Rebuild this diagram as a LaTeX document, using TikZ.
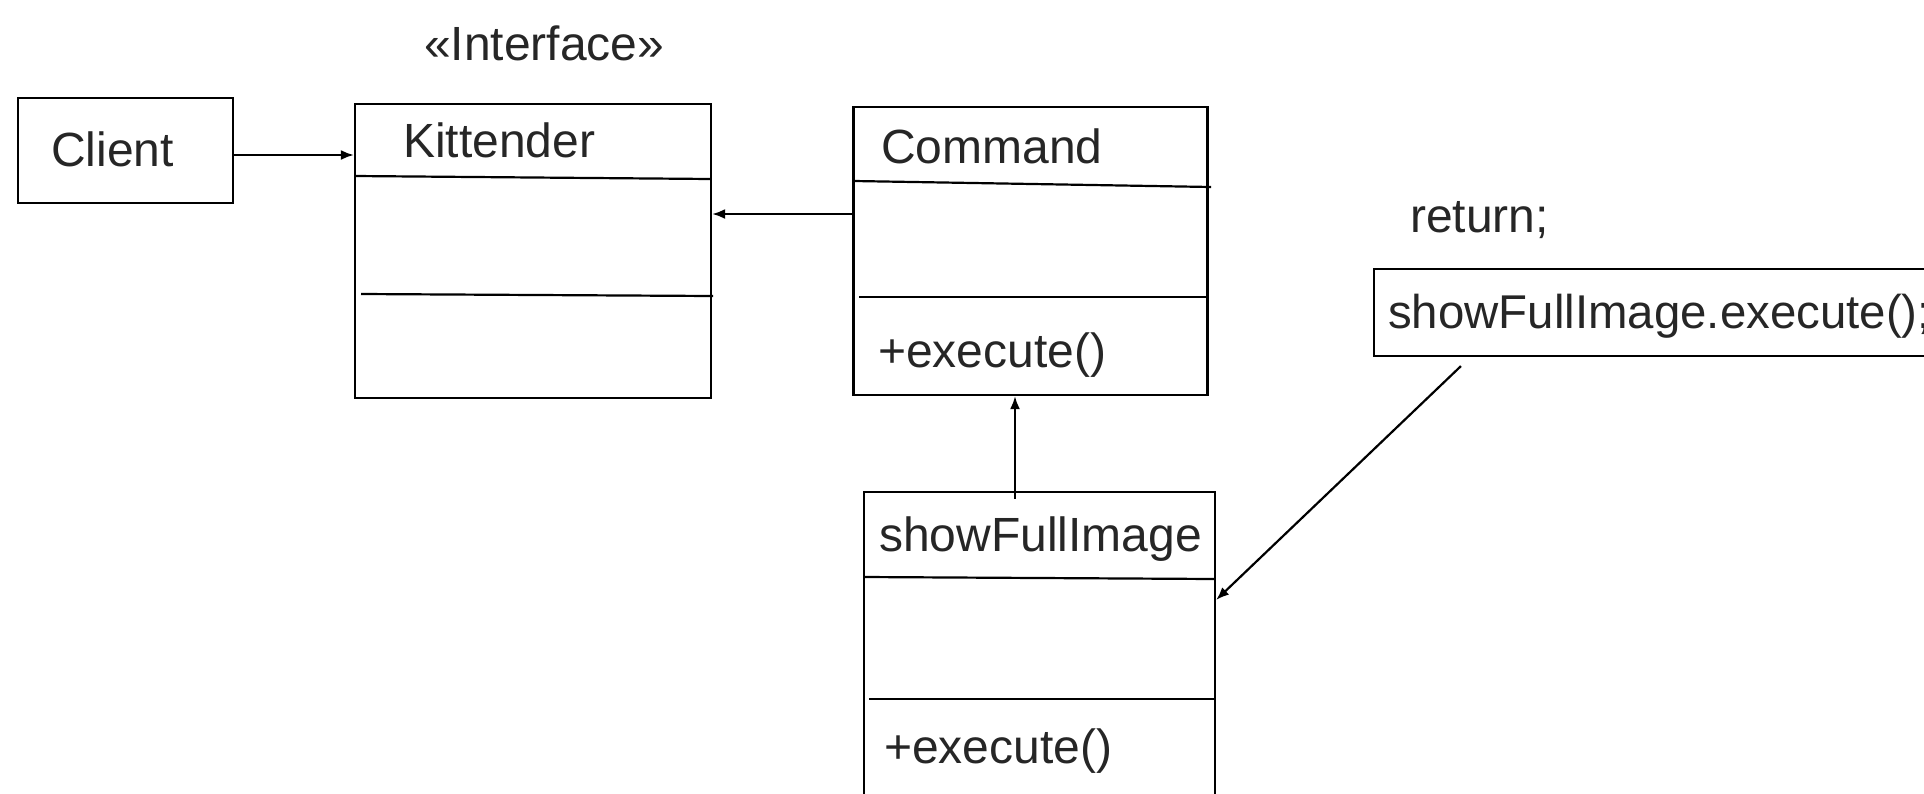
\documentclass[tikz,border=0pt]{standalone}
\usepackage{fontspec}
\setmainfont{Liberation Sans}
\usetikzlibrary{arrows.meta}

\begin{document}
\begin{tikzpicture}[x=1pt,y=-1pt,
    box/.style={draw,line width=2.2pt,inner sep=0pt},
    txt/.style={anchor=base west,inner sep=0pt,text=black!85,font=\fontsize{48}{56}\selectfont},
    rule/.style={line width=2.2pt},
    arr/.style={-{Latex[length=13pt,width=10pt]},line width=2.2pt}]
    \useasboundingbox (0,0) rectangle (1924,793);
    \clip (0,0) rectangle (1924,793);

    % class boxes
    \node[box,minimum width=215pt,minimum height=105pt] (client) at (125.5,150.5) {};
    \node[box,minimum width=356pt,minimum height=294pt] (kit) at (533,251) {};
    \node[box,minimum width=354pt,minimum height=288pt] (cmd) at (1030.5,251) {};
    \node[box,minimum width=351pt,minimum height=350pt] (sfi) at (1039.5,667) {};
    \node[box,minimum width=620pt,minimum height=87pt] (call) at (1684,312.5) {};

    % compartments
    \draw[rule] (355,176) -- (711,179);
    \draw[rule] (361,294) -- (713,296);
    \draw[rule] (854,181) -- (1211,187);
    \draw[rule] (859,297) -- (1206,297);
    \draw[rule] (864,577) -- (1215,579);
    \draw[rule] (869,699) -- (1215,699);

    % texts
    \node[txt] (clientname) at (51,166) {Client};
    \node[txt] (stereo) at (424,60) {«Interface»};
    \node[txt] (kitname) at (403,157) {Kittender};
    \node[txt] (cmdname) at (881,163) {Command};
    \node[txt] (cmdop) at (878,367) {+execute()};
    \node[txt] (sfiname) at (879,551) {showFullImage};
    \node[txt] (sfiop) at (884,763) {+execute()};
    \node[txt] (ret) at (1410,232) {return;};
    \node[txt,font=\fontsize{47.4}{56}\selectfont] (calltext) at (1388,328) {showFullImage.execute();};

    % connectors
    \coordinate (cl) at ([yshift=-4.5pt]client.east);
    \draw[arr] (cl) -- (cl -| kit.west);
    \coordinate (cm) at ([yshift=37pt]cmd.west);
    \draw[arr] (cm) -- (cm -| kit.east);
    \coordinate (up) at ([xshift=-24.5pt,yshift=-8pt]sfi.north);
    \draw[arr] (up) -- (up |- cmd.south);
    \coordinate (down) at ([xshift=88pt,yshift=-9pt]call.south west);
    \coordinate (hit) at (sfi.east |- 0,600);
    \draw[arr] (down) -- (hit);
\end{tikzpicture}
\end{document}
